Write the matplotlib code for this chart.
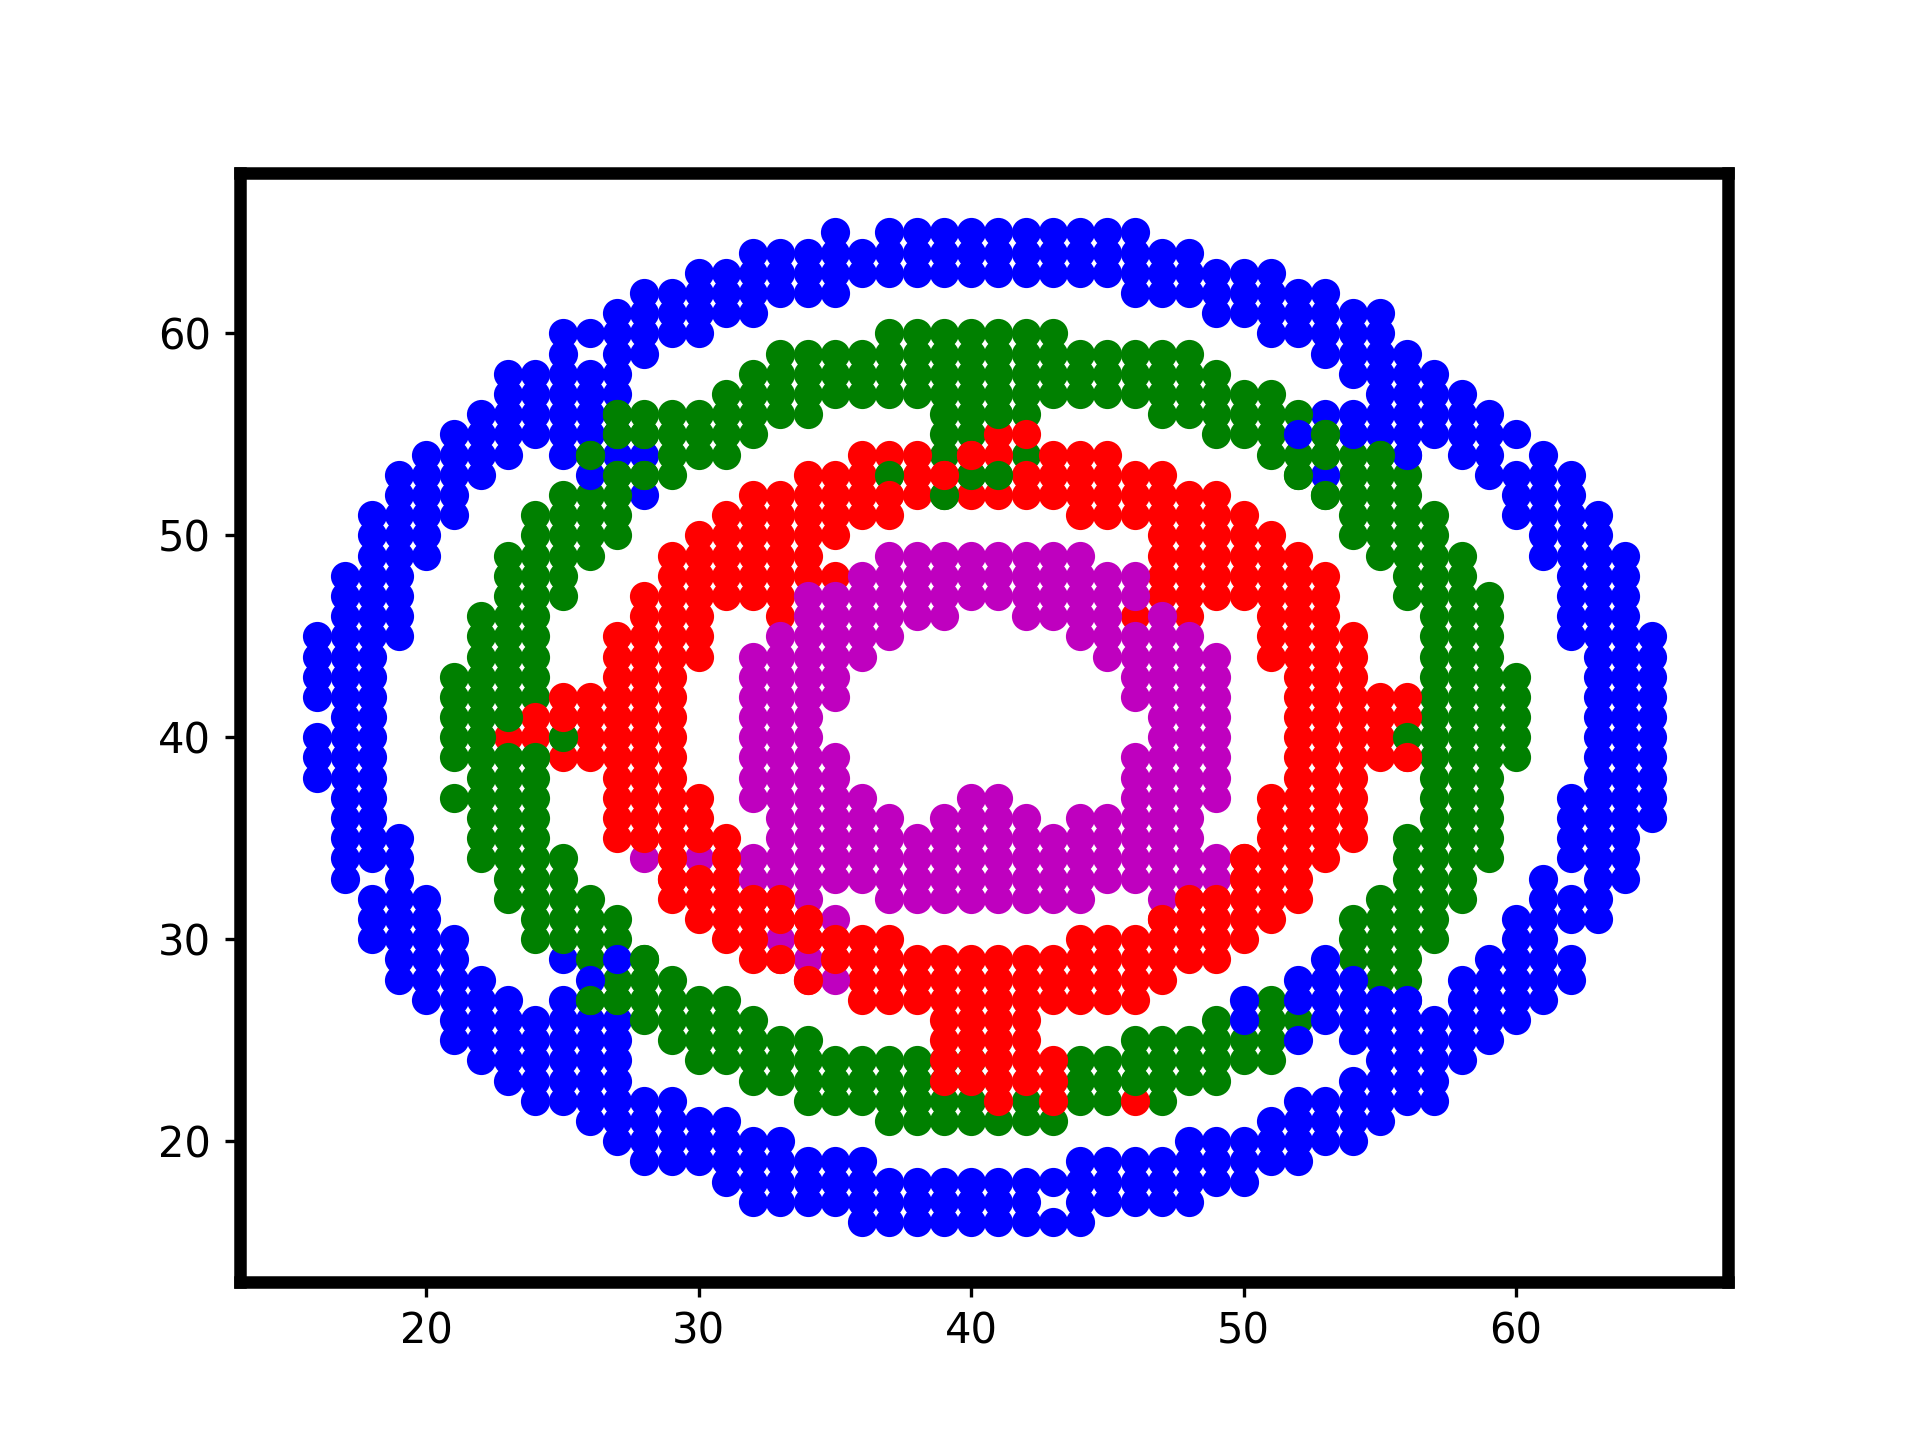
import matplotlib
matplotlib.use('Agg')
import matplotlib.pyplot as plt

# each run is (x, y_low, y_high), all integer grid points in between are filled
blue_runs = [
    (16, 42, 45), (16, 38, 40), (17, 33, 48), (18, 34, 51), (18, 30, 32),
    (19, 45, 53), (19, 28, 35), (20, 49, 54), (20, 27, 32), (21, 51, 55),
    (21, 25, 30), (22, 53, 56), (22, 24, 28), (23, 54, 58), (23, 23, 27),
    (24, 55, 58), (24, 22, 26), (25, 54, 60), (25, 22, 27), (25, 29, 29),
    (26, 60, 60), (26, 54, 58), (26, 21, 26), (27, 54, 61), (27, 20, 26),
    (28, 59, 62), (28, 54, 54), (28, 52, 52), (28, 19, 22), (29, 60, 62),
    (29, 19, 22), (30, 60, 63), (30, 19, 21), (31, 61, 63), (31, 18, 21),
    (32, 61, 64), (32, 17, 20), (33, 62, 64), (33, 17, 20), (34, 62, 64),
    (34, 17, 19), (35, 62, 65), (35, 17, 19), (36, 63, 64), (36, 16, 19),
    (37, 63, 65), (37, 16, 18), (38, 63, 65), (38, 16, 18), (39, 63, 65),
    (39, 16, 18), (40, 63, 65), (40, 16, 18), (41, 63, 65), (41, 16, 18),
    (42, 63, 65), (42, 16, 18), (43, 63, 65), (43, 18, 18), (43, 16, 16),
    (44, 63, 65), (44, 16, 19), (45, 63, 65), (45, 17, 19), (46, 62, 65),
    (46, 17, 19), (47, 62, 64), (47, 17, 19), (48, 62, 64), (48, 17, 20),
    (49, 61, 63), (49, 18, 20), (50, 61, 63), (50, 18, 20), (51, 60, 63),
    (51, 19, 21), (52, 60, 62), (52, 19, 22), (53, 59, 62), (53, 56, 56),
    (53, 20, 22), (54, 58, 61), (54, 55, 56), (54, 20, 23), (55, 55, 61),
    (55, 21, 27), (56, 54, 59), (56, 22, 27), (57, 55, 58), (57, 22, 26),
    (58, 54, 57), (58, 24, 28), (59, 53, 56), (59, 25, 29), (60, 55, 55),
    (60, 51, 53), (60, 26, 31), (61, 49, 54), (61, 27, 33), (62, 45, 53),
    (62, 34, 37), (62, 31, 32), (62, 28, 29), (63, 31, 51), (64, 33, 49),
    (65, 36, 45),
]
green_runs = [
    (21, 39, 43), (21, 37, 37), (22, 34, 46), (23, 41, 49), (23, 32, 39),
    (24, 42, 51), (24, 30, 39), (25, 47, 52), (25, 30, 34), (25, 40, 40),
    (26, 49, 52), (26, 54, 54), (26, 29, 32), (26, 27, 27), (27, 50, 53),
    (27, 55, 56), (27, 30, 31), (27, 27, 28), (28, 55, 56), (28, 53, 53),
    (28, 26, 29), (29, 53, 56), (29, 25, 28), (30, 54, 56), (30, 24, 27),
    (31, 54, 57), (31, 24, 27), (32, 55, 58), (32, 23, 26), (33, 56, 59),
    (33, 23, 25), (34, 56, 59), (34, 22, 25), (35, 57, 59), (35, 22, 24),
    (36, 57, 59), (36, 22, 24), (37, 57, 60), (37, 53, 53), (37, 21, 24),
    (38, 57, 60), (38, 21, 24), (39, 54, 60), (39, 52, 52), (39, 21, 24),
    (40, 55, 60), (40, 53, 53), (40, 21, 24), (41, 56, 60), (41, 53, 53),
    (41, 21, 21), (42, 56, 60), (42, 54, 54), (42, 21, 22), (43, 57, 60),
    (43, 21, 21), (44, 57, 59), (44, 22, 24), (45, 57, 59), (45, 22, 24),
    (46, 57, 59), (46, 23, 25), (47, 56, 59), (47, 22, 25), (48, 56, 59),
    (48, 23, 25), (49, 55, 58), (49, 23, 26), (50, 55, 57), (50, 24, 25),
    (51, 54, 57), (51, 24, 27), (52, 56, 56), (52, 53, 54), (52, 26, 26),
    (53, 54, 55), (53, 52, 52), (54, 50, 54), (54, 29, 31), (55, 49, 54),
    (55, 28, 32), (56, 47, 53), (56, 40, 40), (56, 28, 35), (57, 30, 51),
    (58, 32, 49), (59, 34, 47), (60, 39, 43),
]
red_runs = [
    (23, 40, 40), (24, 40, 41), (25, 39, 39), (25, 41, 42), (26, 39, 42),
    (27, 35, 45), (28, 35, 47), (29, 32, 49), (30, 44, 50), (30, 35, 37),
    (30, 31, 33), (31, 47, 51), (31, 30, 35), (32, 47, 52), (32, 29, 32),
    (33, 46, 52), (33, 31, 32), (33, 29, 29), (34, 48, 53), (34, 30, 31),
    (34, 28, 28), (35, 50, 53), (35, 48, 48), (35, 29, 30), (36, 51, 54),
    (36, 27, 30), (37, 51, 52), (37, 54, 54), (37, 27, 30), (38, 52, 54),
    (38, 27, 29), (39, 53, 53), (39, 23, 29), (40, 52, 52), (40, 54, 54),
    (40, 23, 29), (41, 52, 52), (41, 54, 55), (41, 22, 29), (42, 52, 53),
    (42, 55, 55), (42, 23, 29), (43, 52, 54), (43, 27, 29), (43, 22, 24),
    (44, 51, 54), (44, 27, 30), (45, 51, 54), (45, 27, 30), (46, 51, 53),
    (46, 46, 46), (46, 27, 30), (46, 22, 22), (47, 47, 53), (47, 28, 31),
    (48, 46, 52), (48, 29, 32), (49, 47, 52), (49, 29, 32), (50, 47, 51),
    (50, 30, 34), (51, 44, 50), (51, 31, 37), (52, 32, 49), (53, 34, 48),
    (54, 35, 45), (55, 39, 42), (56, 41, 42), (56, 39, 39),
]
magenta_runs = [
    (28, 34, 34), (30, 34, 34), (32, 37, 44), (32, 33, 34), (33, 33, 45),
    (33, 30, 30), (34, 32, 47), (34, 29, 29), (35, 42, 47), (35, 33, 39),
    (35, 31, 31), (35, 28, 28), (36, 44, 48), (36, 33, 37), (37, 45, 49),
    (37, 32, 36), (38, 46, 49), (38, 32, 35), (39, 46, 49), (39, 32, 36),
    (40, 47, 49), (40, 32, 37), (41, 47, 49), (41, 32, 37), (42, 46, 49),
    (42, 32, 36), (43, 46, 49), (43, 32, 35), (44, 45, 49), (44, 32, 36),
    (45, 44, 48), (45, 33, 36), (46, 47, 48), (46, 42, 45), (46, 33, 39),
    (47, 32, 46), (48, 33, 45), (49, 37, 44), (49, 33, 34),
]

# points that were drawn later than their neighbours in the original
blue_over = [(26, 53), (26, 28), (27, 29), (52, 55), (54, 55), (56, 54),
             (50, 26), (50, 27), (52, 25), (52, 27), (52, 28), (53, 26),
             (53, 27), (53, 28), (53, 29), (53, 53), (54, 25), (54, 26),
             (54, 27), (54, 28), (55, 27), (56, 27)]
green_over = [(26, 54), (27, 55), (27, 56), (28, 55), (27, 53), (28, 53),
              (26, 27), (27, 27), (28, 29), (53, 55), (53, 54), (53, 52),
              (55, 54), (52, 53)]
green_top = [(23, 41), (23, 39), (24, 39), (25, 40), (22, 40), (56, 40),
             (37, 53), (39, 52), (40, 53), (41, 53), (46, 23), (41, 56)]
red_top = [(25, 41), (56, 39), (37, 52), (39, 53), (40, 54), (28, 35),
           (29, 34), (29, 33), (31, 34), (30, 35), (30, 33), (32, 32),
           (33, 32), (33, 31), (32, 30), (34, 31), (34, 30), (33, 29),
           (34, 28), (35, 29), (35, 30), (47, 31), (48, 32), (49, 32),
           (50, 33), (50, 34)]


def expand(runs):
    xs = []
    ys = []
    for x, low, high in runs:
        for y in range(low, high + 1):
            xs.append(x)
            ys.append(y)
    return xs, ys


def plot_points(ax, points, style):
    ax.plot([p[0] for p in points], [p[1] for p in points], style)


fig = plt.figure(figsize=(6.4, 4.8), dpi=300)
ax = fig.add_subplot(111)

ax.plot(*expand(blue_runs), 'bo')
ax.plot(*expand(green_runs), 'go')
plot_points(ax, blue_over, 'bo')
plot_points(ax, green_over, 'go')
ax.plot(*expand(red_runs), 'ro')
ax.plot(*expand(magenta_runs), 'mo')
plot_points(ax, green_top, 'go')
plot_points(ax, red_top, 'ro')

ax.set_xlim(13.16, 67.78)
ax.set_ylim(13.05, 67.95)
ax.set_xticks([20, 30, 40, 50, 60])
ax.set_yticks([20, 30, 40, 50, 60])
for spine in ax.spines.values():
    spine.set_linewidth(3)

fig.savefig('out.png', dpi=300)
